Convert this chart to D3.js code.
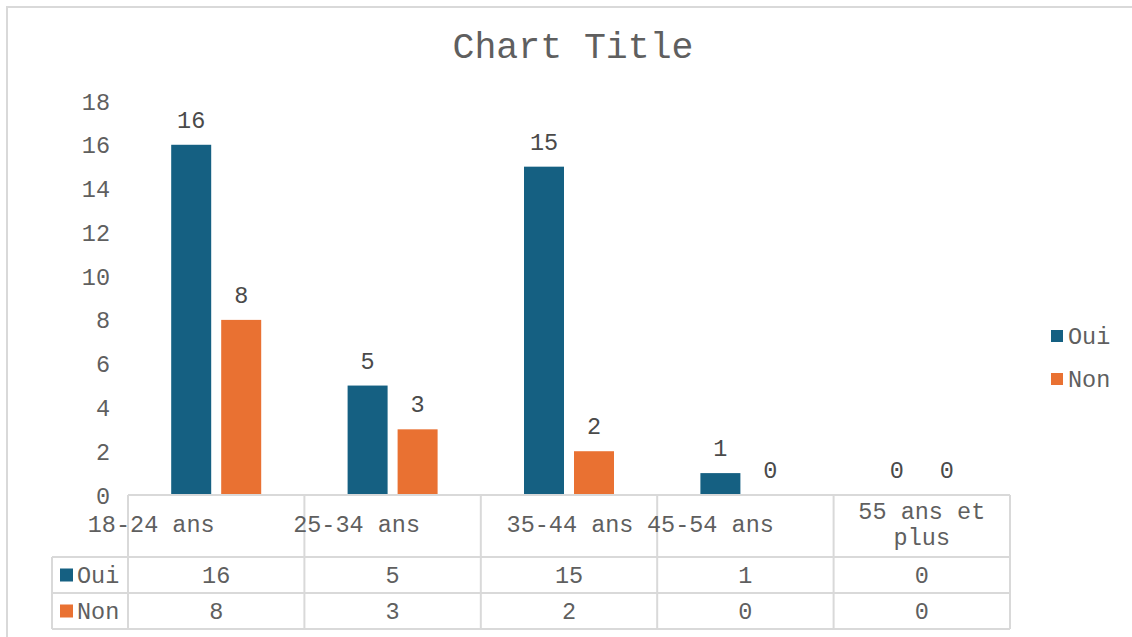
<!DOCTYPE html>
<html>
<head>
<meta charset="utf-8">
<script src="https://cdn.jsdelivr.net/npm/d3@7"></script>
<style>
  html, body { margin: 0; padding: 0; background: #fff; }
  svg { display: block; }
  text { font-family: "Liberation Mono", "Courier New", monospace; }
</style>
</head>
<body>
<svg id="chart" width="1132" height="637"></svg>
<script>
// Survey answers by age group
const categories = ["18-24 ans", "25-34 ans", "35-44 ans", "45-54 ans", "55 ans et plus"];
const seriesNames = ["Oui", "Non"];
const oui = [16, 5, 15, 1, 0];
const non = [8, 3, 2, 0, 0];
const yTicks = [0, 2, 4, 6, 8, 10, 12, 14, 16, 18];
const title = "Chart Title";

const colors = { Oui: "#156082", Non: "#E97132" };
const textColor = "#5f5f5f";
const lineColor = "#d9d9d9";

// Horizontal nudges for the header labels of the data table
const headerShift = [-65, -36, 1, -35, 0];

const svg = d3.select("#chart");
const W = 1132, H = 637;

// Chart frame (runs off the right and bottom of the view)
svg.append("rect")
  .attr("x", 7).attr("y", 7)
  .attr("width", W + 20).attr("height", H + 20)
  .attr("fill", "#fff")
  .attr("stroke", lineColor).attr("stroke-width", 2);

// Title
svg.append("text")
  .attr("x", 573).attr("y", 58)
  .attr("text-anchor", "middle")
  .attr("font-size", 36.5)
  .attr("fill", textColor)
  .text(title);

const plot = { left: 128, right: 1010, top: 101, bottom: 495 };

const x0 = d3.scaleBand().domain(categories).range([plot.left, plot.right]);
const x1 = d3.scaleBand().domain(seriesNames).range([0, 90]).paddingInner(0.2);
const y = d3.scaleLinear().domain([0, 18]).range([plot.bottom, plot.top]);

const rows = categories.map((c, i) => ({ cat: c, Oui: oui[i], Non: non[i] }));

// Y axis labels
const yAxis = d3.axisLeft(y).tickValues(yTicks).tickSize(0).tickPadding(0);
const yg = svg.append("g").attr("transform", `translate(${plot.left - 18},0)`).call(yAxis);
yg.select(".domain").remove();
yg.selectAll("text")
  .attr("font-size", 23.5)
  .attr("font-family", "Liberation Mono, Courier New, monospace")
  .attr("fill", textColor)
  .attr("dy", "0.34em");

// Bars
const groups = svg.append("g").selectAll("g")
  .data(rows).join("g")
  .attr("transform", d => `translate(${x0(d.cat) + x0.bandwidth() / 2 - 45},0)`);

groups.selectAll("rect")
  .data(d => seriesNames.map(s => ({ s, v: d[s] })))
  .join("rect")
  .attr("x", d => x1(d.s))
  .attr("width", x1.bandwidth())
  .attr("y", d => y(d.v))
  .attr("height", d => y(0) - y(d.v))
  .attr("fill", d => colors[d.s]);

// Value labels above bars
groups.selectAll("text.val")
  .data(d => seriesNames.map(s => ({ s, v: d[s] })))
  .join("text")
  .attr("class", "val")
  .attr("x", d => x1(d.s) + x1.bandwidth() / 2)
  .attr("y", d => y(d.v) - 17)
  .attr("text-anchor", "middle")
  .attr("font-size", 23.5)
  .attr("fill", "#4a4a4a")
  .text(d => d.v);

// Data table
const table = svg.append("g");
const rowTop = [495, 557, 593, 629];
const keyLeft = 52;
const bounds = categories.map(c => x0(c)).concat([plot.right]);

// horizontal lines
table.append("line")
  .attr("x1", plot.left).attr("x2", plot.right)
  .attr("y1", rowTop[0]).attr("y2", rowTop[0]);
[1, 2, 3].forEach(i => {
  table.append("line")
    .attr("x1", keyLeft).attr("x2", plot.right)
    .attr("y1", rowTop[i]).attr("y2", rowTop[i]);
});
// vertical lines
bounds.forEach(b => {
  table.append("line")
    .attr("x1", b).attr("x2", b)
    .attr("y1", rowTop[0]).attr("y2", rowTop[3]);
});
table.append("line")
  .attr("x1", keyLeft).attr("x2", keyLeft)
  .attr("y1", rowTop[1]).attr("y2", rowTop[3]);
table.selectAll("line")
  .attr("stroke", lineColor).attr("stroke-width", 2);

// header labels
categories.forEach((c, i) => {
  const cx = x0(c) + x0.bandwidth() / 2 + headerShift[i];
  const words = c === "55 ans et plus" ? ["55 ans et", "plus"] : [c];
  const t = table.append("text")
    .attr("text-anchor", "middle")
    .attr("font-size", 23.5)
    .attr("fill", textColor);
  if (words.length === 1) {
    t.append("tspan").attr("x", cx).attr("y", 532).text(words[0]);
  } else {
    t.append("tspan").attr("x", cx).attr("y", 519).text(words[0]);
    t.append("tspan").attr("x", cx).attr("y", 545).text(words[1]);
  }
});

// series rows
const seriesValues = { Oui: oui, Non: non };
seriesNames.forEach((s, r) => {
  const cy = (rowTop[r + 1] + rowTop[r + 2]) / 2;
  table.append("rect")
    .attr("x", 60).attr("y", cy - 6.5)
    .attr("width", 13).attr("height", 13)
    .attr("fill", colors[s]);
  table.append("text")
    .attr("x", 77).attr("y", cy)
    .attr("dy", "0.36em")
    .attr("font-size", 23.5)
    .attr("fill", textColor)
    .text(s);
  categories.forEach((c, i) => {
    table.append("text")
      .attr("x", x0(c) + x0.bandwidth() / 2)
      .attr("y", cy)
      .attr("dy", "0.36em")
      .attr("text-anchor", "middle")
      .attr("font-size", 23.5)
      .attr("fill", textColor)
      .text(seriesValues[s][i]);
  });
});

// Legend
const legend = svg.append("g");
seriesNames.forEach((s, i) => {
  const cy = 336 + i * 43;
  legend.append("rect")
    .attr("x", 1051).attr("y", cy - 6)
    .attr("width", 12).attr("height", 12)
    .attr("fill", colors[s]);
  legend.append("text")
    .attr("x", 1068).attr("y", cy)
    .attr("dy", "0.36em")
    .attr("font-size", 23.5)
    .attr("fill", textColor)
    .text(s);
});
</script>
</body>
</html>
